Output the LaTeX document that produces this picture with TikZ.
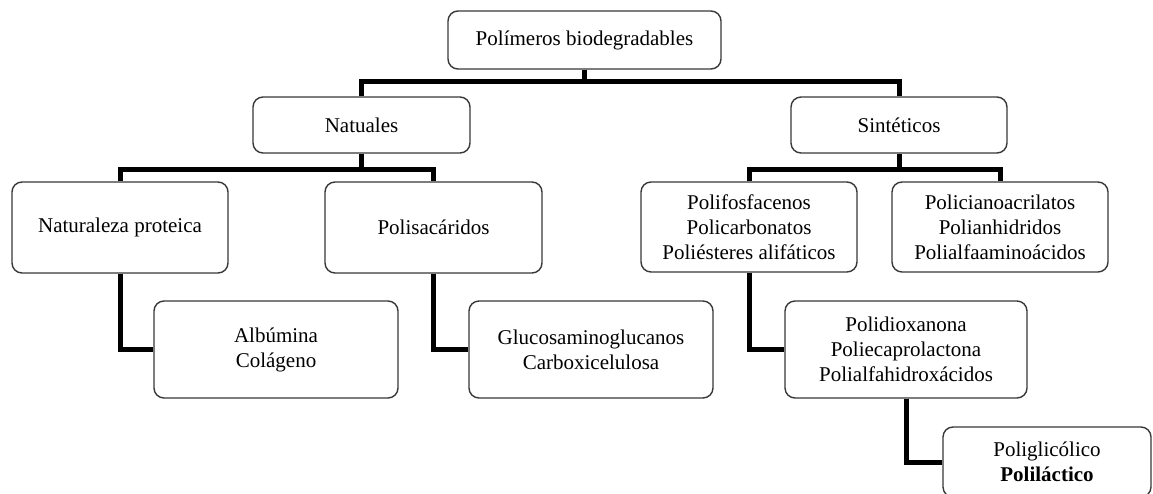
\documentclass[tikz,border=0pt]{standalone}
\usepackage{fontspec}
\setmainfont{Liberation Serif}
\begin{document}
\begin{tikzpicture}[x=1pt,y=-1pt,
  box/.style={draw=black!78, line width=1.4pt, rounded corners=10pt, fill=white,
    align=center, inner sep=0pt, font=\fontsize{21}{25}\selectfont},
  conn/.style={draw=black, line width=5pt, line join=miter, line cap=butt}]
\useasboundingbox (0,0) rectangle (1153,493);
% connectors first (behind boxes)
\coordinate (busA) at (0,81);
\coordinate (busB) at (0,169);
\coordinate (busC) at (0,350);
\coordinate (busD) at (0,462);
% nodes
\node[box, minimum width=273pt, minimum height=58pt] (top) at (584.5,40) {Polímeros biodegradables};
\node[box, minimum width=217pt, minimum height=56pt] (nat) at (361.5,125) {Natuales};
\node[box, minimum width=216pt, minimum height=56pt] (sin) at (899,125) {Sintéticos};
\node[box, minimum width=216pt, minimum height=91pt] (np) at (120,227.5) {Naturaleza proteica};
\node[box, minimum width=217pt, minimum height=91pt] (pol) at (433.5,227.5) {Polisacáridos};
\node[box, minimum width=216pt, minimum height=90pt] (pf) at (749,227) {Polifosfacenos\\Policarbonatos\\Poliésteres alifáticos};
\node[box, minimum width=216pt, minimum height=90pt] (pc) at (1000,227) {Policianoacrilatos\\Polianhidridos\\Polialfaaminoácidos};
\node[box, minimum width=244pt, minimum height=97pt] (alb) at (276,349.5) {Albúmina\\Colágeno};
\node[box, minimum width=244pt, minimum height=97pt] (glu) at (591,349.5) {Glucosaminoglucanos\\Carboxicelulosa};
\node[box, minimum width=242pt, minimum height=97pt] (pd) at (906,349.5) {Polidioxanona\\Poliecaprolactona\\Polialfahidroxácidos};
\node[box, minimum width=208pt, minimum height=70pt] (pg) at (1047,462) {Poliglicólico\\\textbf{Poliláctico}};
% connectors
\draw[conn] (top.south) -- (top.south |- busA);
\draw[conn] (nat.north) -- (nat.north |- busA) -| (sin.north);
\draw[conn] (nat.south) -- (nat.south |- busB);
\draw[conn] (np.north) -- (np.north |- busB) -| (pol.north);
\draw[conn] (sin.south) -- (sin.south |- busB);
\draw[conn] (pf.north) -- (pf.north |- busB) -| (pc.north);
\draw[conn] (np.south) |- (alb.west);
\draw[conn] (pol.south) |- (glu.west);
\draw[conn] (pf.south) |- (pd.west);
\draw[conn] (pd.south) |- (pg.west);
\end{tikzpicture}
\end{document}
